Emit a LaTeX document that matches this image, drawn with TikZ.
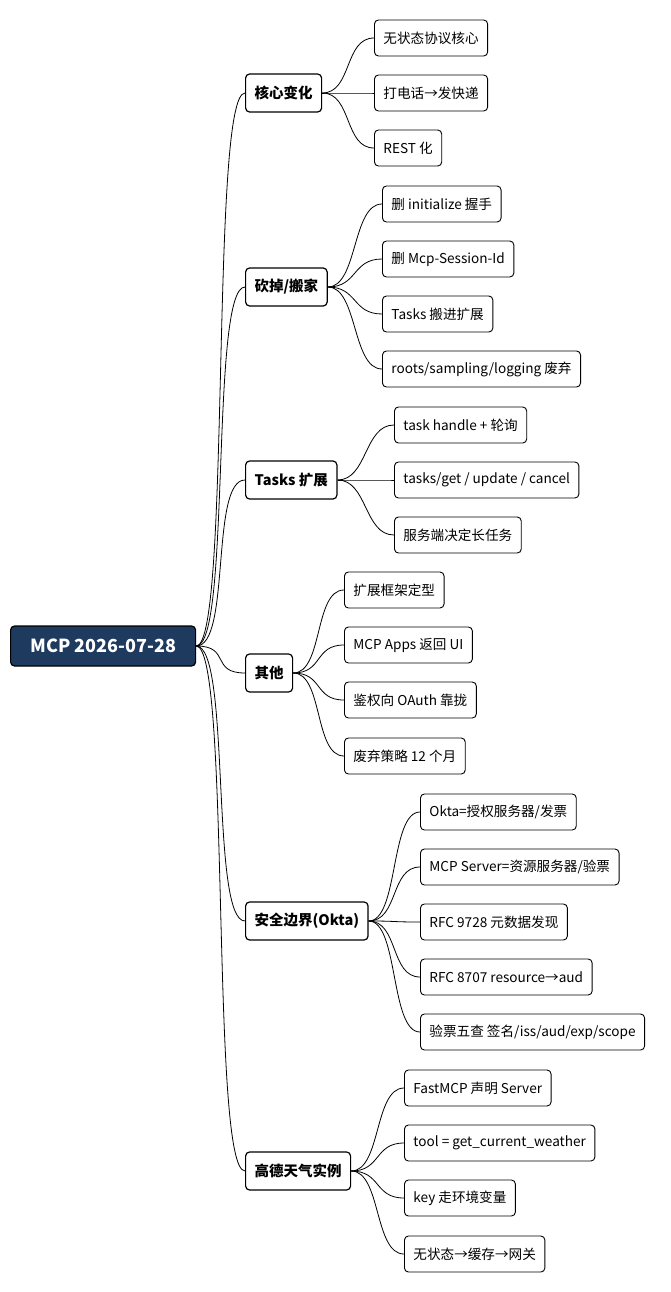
\documentclass[tikz,border=0pt]{standalone}
\usepackage{fontspec}
\setmainfont{Noto Sans CJK SC}
\begin{document}
\begin{tikzpicture}[x=1pt,y=-1pt,
 leaf/.style={draw=black,line width=0.9pt,rounded corners=4pt,fill=white,anchor=west,minimum height=36pt,inner xsep=9pt,font=\fontsize{13.6}{15}\selectfont},
 br/.style={draw=black,line width=1.2pt,rounded corners=4pt,fill=white,anchor=west,minimum height=38pt,inner xsep=9pt,font=\fontsize{14.5}{16}\selectfont\bfseries},
 root/.style={draw=black,line width=1.2pt,rounded corners=4pt,fill={rgb,255:red,31;green,58;blue,95},text=white,anchor=west,minimum height=40pt,minimum width=185pt,font=\fontsize{18}{20}\selectfont\bfseries},
 con/.style={line width=0.8pt}]
\useasboundingbox (0,0) rectangle (671,1292);
\node[root] (r) at (10,646) {MCP 2026-07-28};
\node[br] (b1) at (245,93) {核心变化};
\node[br] (b2) at (245,287) {砍掉/搬家};
\node[br] (b3) at (245,480) {Tasks 扩展};
\node[br] (b4) at (245,673) {其他};
\node[br] (b5) at (245,921) {安全边界(Okta)};
\node[br] (b6) at (245,1171) {高德天气实例};
\node[leaf] (c11) at (374,38) {无状态协议核心};
\node[leaf] (c12) at (374,93) {打电话→发快递};
\node[leaf] (c13) at (374,148) {REST 化};
\node[leaf] (c21) at (382,204) {删 initialize 握手};
\node[leaf] (c22) at (382,259) {删 Mcp-Session-Id};
\node[leaf] (c23) at (382,314) {Tasks 搬进扩展};
\node[leaf] (c24) at (382,369) {roots/sampling/logging 废弃};
\node[leaf] (c31) at (394,425) {task handle + 轮询};
\node[leaf] (c32) at (394,480) {tasks/get / update / cancel};
\node[leaf] (c33) at (394,535) {服务端决定长任务};
\node[leaf] (c41) at (344,590) {扩展框架定型};
\node[leaf] (c42) at (344,645) {MCP Apps 返回 UI};
\node[leaf] (c43) at (344,700) {鉴权向 OAuth 靠拢};
\node[leaf] (c44) at (344,756) {废弃策略 12 个月};
\node[leaf] (c51) at (420,812) {Okta=授权服务器/发票};
\node[leaf] (c52) at (420,867) {MCP Server=资源服务器/验票};
\node[leaf] (c53) at (420,922) {RFC 9728 元数据发现};
\node[leaf] (c54) at (420,977) {RFC 8707 resource→aud};
\node[leaf] (c55) at (420,1032) {验票五查 签名/iss/aud/exp/scope};
\node[leaf] (c61) at (404,1088) {FastMCP 声明 Server};
\node[leaf] (c62) at (404,1143) {tool = get\_current\_weather};
\node[leaf] (c63) at (404,1198) {key 走环境变量};
\node[leaf] (c64) at (404,1254) {无状态→缓存→网关};
\foreach \b in {b1,b2,b3,b4,b5,b6}
 \draw[con] (r.east) .. controls ([xshift=35pt]r.east) and ([xshift=-35pt]\b.west) .. (\b.west);
\foreach \b/\c in {b1/c11,b1/c12,b1/c13,b2/c21,b2/c22,b2/c23,b2/c24,b3/c31,b3/c32,b3/c33,b4/c41,b4/c42,b4/c43,b4/c44,b5/c51,b5/c52,b5/c53,b5/c54,b5/c55,b6/c61,b6/c62,b6/c63,b6/c64}
 \draw[con] (\b.east) .. controls ([xshift=30pt]\b.east) and ([xshift=-30pt]\c.west) .. (\c.west);
\end{tikzpicture}
\end{document}
